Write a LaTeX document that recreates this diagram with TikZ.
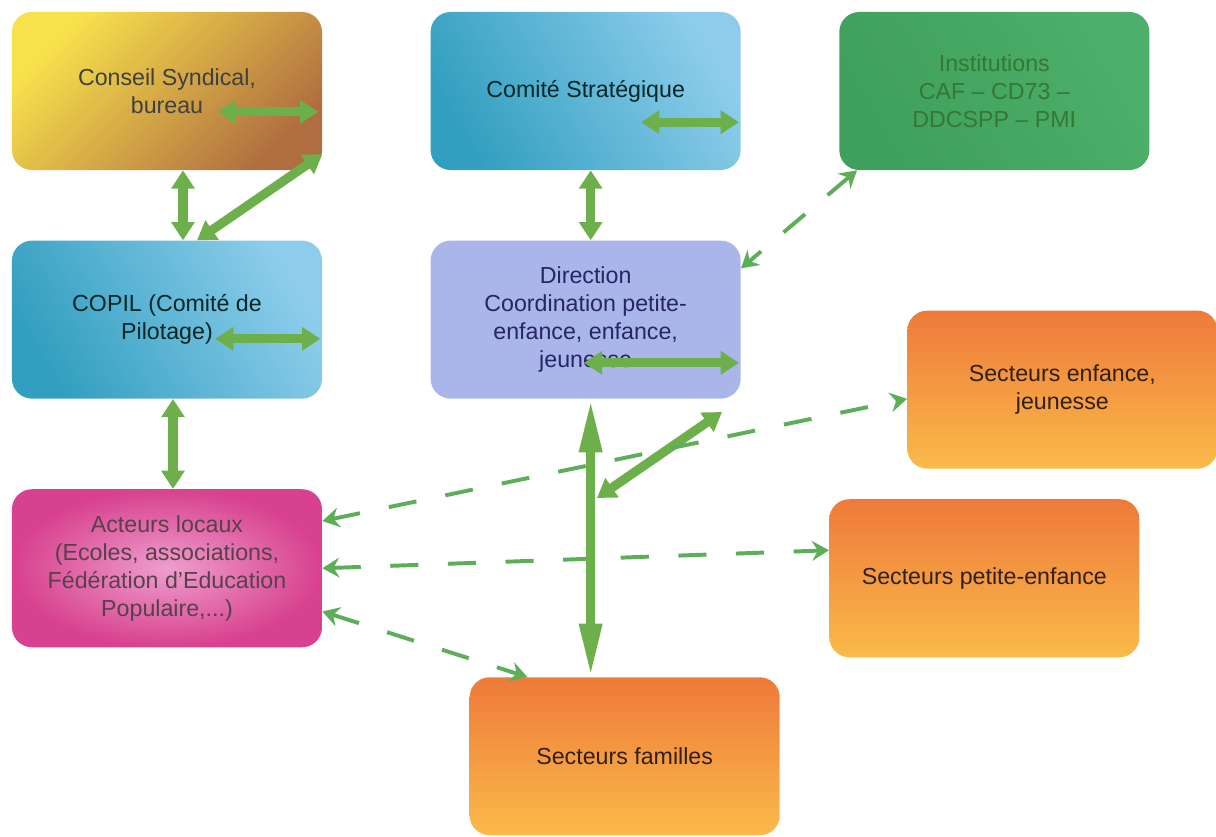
\documentclass[tikz,border=0pt]{standalone}
\usepackage{fontspec}
\setmainfont{Liberation Sans}
\usepackage{tikz}
\usetikzlibrary{arrows.meta,positioning,shadings}
\usepackage{xcolor}
\definecolor{linkgreen}{HTML}{6DB04B}
\definecolor{dashgreen}{HTML}{5DAE58}
\definecolor{yellowA}{HTML}{F8E24C}
\definecolor{brownA}{HTML}{DCAA5E}
\definecolor{brownB}{HTML}{B06E40}
\definecolor{tealA}{HTML}{339FC0}
\definecolor{tealB}{HTML}{5CB5D6}
\definecolor{tealC}{HTML}{8DCDEB}
\definecolor{instgreen}{HTML}{3F9F5C}
\definecolor{instgreenB}{HTML}{4DAF69}
\definecolor{lavA}{HTML}{AAB5EA}
\definecolor{lavB}{HTML}{8F9BDC}
\definecolor{pinkA}{HTML}{EE9ECD}
\definecolor{pinkB}{HTML}{D8418F}
\definecolor{orangeA}{HTML}{EE7A3A}
\definecolor{orangeB}{HTML}{F39045}
\definecolor{orangeC}{HTML}{FABA4A}

\begin{document}
\begin{tikzpicture}[x=0.025cm,y=-0.025cm,node distance=1.75cm,
                    font=\fontsize{16.5}{20}\selectfont]
  \tikzstyle{box}=[rectangle,rounded corners=0.5cm,minimum width=7.75cm,minimum height=3.95cm,align=center,inner sep=2pt]
  \tikzstyle{conseil box}=[box,left color=yellowA,middle color=brownA,right color=brownB,shading angle=45,text=black!75]
  \tikzstyle{blue box}=[box,left color=tealA,middle color=tealB,right color=tealC,shading angle=120,text=black!70!teal]
  \tikzstyle{inst box}=[box,left color=instgreen,right color=instgreenB,shading angle=120,text=black!55!green!60!gray]
  \tikzstyle{dir box}=[box,left color=lavA,middle color=lavB,right color=lavA,text=black!65!blue!70!gray]
  \tikzstyle{pink box}=[box,inner color=pinkA,outer color=pinkB,text=black!75!magenta]
  \tikzstyle{orange box}=[box,top color=orangeA,middle color=orangeB,bottom color=orangeC,text=black!75!brown]
  \tikzstyle{link}=[<->,>={Triangle[length=13pt,width=16pt]},line width=6.5pt,draw=linkgreen]
  \tikzstyle{long link}=[link,>={Triangle[length=38pt,width=15pt]}]
  \tikzstyle{dash link}=[<->,>={Stealth[length=12pt,width=14pt,inset=4pt]},line width=2.8pt,draw=dashgreen,dash pattern=on 20pt off 21pt]

  \useasboundingbox (0,0) rectangle (1216,836);

  \node[conseil box] (conseil)                           at (167,91) {Conseil Syndical,\\bureau};
  \node[blue box]    (copil)    [below=of conseil]                   {COPIL (Comité de\\Pilotage)};
  \node[pink box]    (acteurs)  [below=2.25cm of copil]              {Acteurs locaux\\(Ecoles, associations,\\Fédération d'Education\\Populaire,...)};
  \node[blue box]    (comite)   [right=2.7cm of conseil]             {Comité Stratégique};
  \node[dir box]     (direction) [below=of comite]                   {Direction\\Coordination petite-\\enfance, enfance,\\jeunesse};
  \node[inst box]    (inst)     [right=2.45cm of comite]             {Institutions\\CAF -- CD73 --\\DDCSPP -- PMI};
  \node[orange box]  (enfance)  [right=4.15cm of direction,yshift=-1.75cm] {Secteurs enfance,\\jeunesse};
  \node[orange box]  (petite)   [below=0.75cm of enfance,xshift=-1.95cm]  {Secteurs petite-enfance};
  \node[orange box]  (familles) [below=6.95cm of direction,xshift=0.975cm] {Secteurs familles};

  % loose ends
  \coordinate (cs tail)  at ([shift={(-2.62cm,-0.52cm)}]conseil.east);
  \coordinate (cp tail)  at ([shift={(-2.68cm,-0.48cm)}]copil.east);
  \coordinate (cst tail) at ([shift={(-2.5cm,-0.78cm)}]comite.east);
  \coordinate (dir tail) at ([shift={(-3.93cm,-1.08cm)}]direction.east);
  \coordinate (branch)   at (597,498);
  \coordinate (branch end) at (722,412);

  \path (cs tail) edge[link] ([shift={(-0.1cm,-0.52cm)}]conseil.east)
        ([xshift=0.4cm]conseil.south) edge[link] ([xshift=0.4cm]copil.north)
        ([xshift=0.75cm]copil.north) edge[link] ([yshift=-1.58cm]conseil.east)
        (cp tail) edge[link] ([shift={(-0.05cm,-0.48cm)}]copil.east)
        ([xshift=0.15cm]copil.south) edge[link] ([xshift=0.15cm]acteurs.north)
        (cst tail) edge[link] ([shift={(-0.05cm,-0.78cm)}]comite.east)
        ([xshift=0.125cm]comite.south) edge[link] ([xshift=0.125cm]direction.north)
        (dir tail) edge[link] ([shift={(-0.05cm,-1.08cm)}]direction.east)
        (branch) edge[link] (branch end);

  \path ([xshift=0.45cm]inst.south west) edge[dash link] ([yshift=-0.7cm]direction.north east)
        ([yshift=1.18cm]acteurs.east) edge[dash link] ([yshift=-0.23cm]enfance.west)
        (acteurs.east) edge[dash link] ([yshift=0.7cm]petite.west)
        ([yshift=-1.08cm]acteurs.east) edge[dash link] ([xshift=1.45cm]familles.north west);

  \path ([xshift=0.125cm]direction.south) edge[long link] ([xshift=-0.85cm]familles.north);
\end{tikzpicture}
\end{document}
